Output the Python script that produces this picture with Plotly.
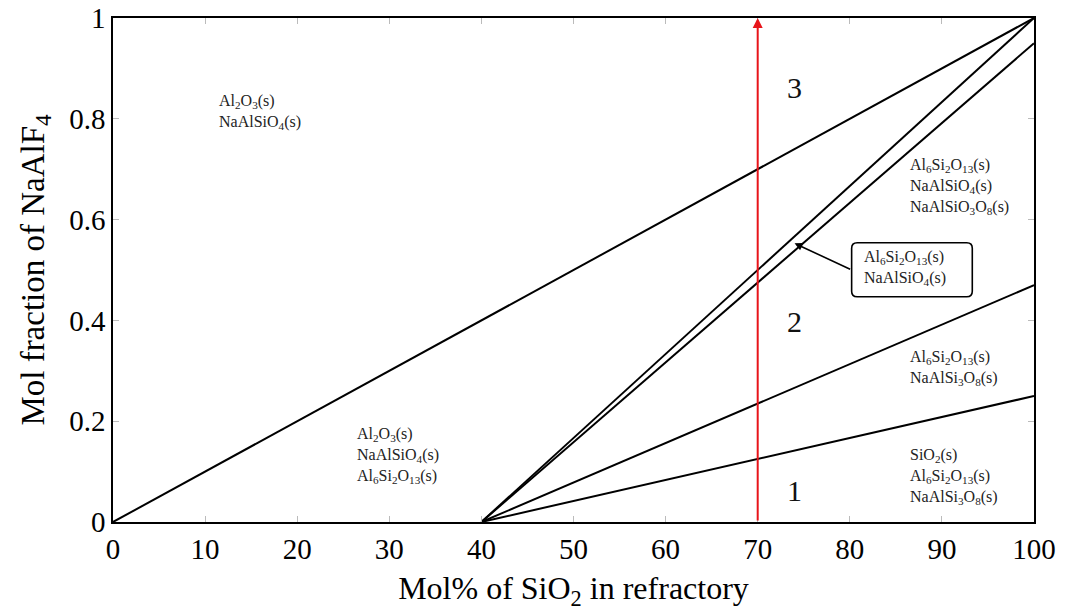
import plotly.graph_objects as go

# Phase boundary lines (start/end points)
line_x0 = [0, 40, 40, 40, 40]
line_y0 = [0.0, 0.0, 0.0, 0.0, 0.0]
line_x1 = [100, 100, 100, 100, 100]
line_y1 = [1.0, 1.0, 0.95, 0.47, 0.25]

# Red composition line
tie_x = 70
tie_y = [0.0, 1.0]

# Region labels
region_text = [
    "Al<sub>2</sub>O<sub>3</sub>(s)<br>NaAlSiO<sub>4</sub>(s)",
    "Al<sub>2</sub>O<sub>3</sub>(s)<br>NaAlSiO<sub>4</sub>(s)<br>Al<sub>6</sub>Si<sub>2</sub>O<sub>13</sub>(s)",
    "Al<sub>6</sub>Si<sub>2</sub>O<sub>13</sub>(s)<br>NaAlSiO<sub>4</sub>(s)<br>NaAlSiO<sub>3</sub>O<sub>8</sub>(s)",
    "Al<sub>6</sub>Si<sub>2</sub>O<sub>13</sub>(s)<br>NaAlSi<sub>3</sub>O<sub>8</sub>(s)",
    "SiO<sub>2</sub>(s)<br>Al<sub>6</sub>Si<sub>2</sub>O<sub>13</sub>(s)<br>NaAlSi<sub>3</sub>O<sub>8</sub>(s)",
]
region_x = [11.3, 26.3, 86.3, 86.3, 86.3]
region_y = [0.813, 0.131, 0.665, 0.306, 0.091]

box_text = "Al<sub>6</sub>Si<sub>2</sub>O<sub>13</sub>(s)<br>NaAlSiO<sub>4</sub>(s)"
box_x = 81.3
box_y = 0.503
box_target = (74.0, 0.553)

num_text = ["3", "2", "1"]
num_x = [74.0, 74.0, 74.0]
num_y = [0.863, 0.397, 0.063]

x_ticks = [0, 10, 20, 30, 40, 50, 60, 70, 80, 90, 100]
y_ticks = [0, 0.2, 0.4, 0.6, 0.8, 1.0]
y_tick_labels = ["0", "0.2", "0.4", "0.6", "0.8", "1"]

FONT = "Liberation Serif"

fig = go.Figure()
for x0, y0, x1, y1 in zip(line_x0, line_y0, line_x1, line_y1):
    fig.add_trace(go.Scatter(x=[x0, x1], y=[y0, y1], mode="lines",
                             line=dict(color="black", width=2),
                             showlegend=False, hoverinfo="skip"))

annotations = []
for t, x, y in zip(region_text, region_x, region_y):
    annotations.append(dict(x=x, y=y, text=t, showarrow=False, xanchor="left",
                            yanchor="middle", align="left",
                            font=dict(family=FONT, size=16, color="#222")))
for t, x, y in zip(num_text, num_x, num_y):
    annotations.append(dict(x=x, y=y, text=t, showarrow=False,
                            font=dict(family=FONT, size=30, color="#111")))
annotations.append(dict(x=box_x, y=box_y, text=box_text, showarrow=False,
                        xanchor="left", yanchor="middle", align="left",
                        font=dict(family=FONT, size=16, color="#222")))
# arrow to the narrow region
annotations.append(dict(x=box_target[0], y=box_target[1], ax=80.2, ay=0.50,
                        axref="x", ayref="y", xref="x", yref="y", text="",
                        showarrow=True, arrowhead=2, arrowsize=1, arrowwidth=1.6,
                        arrowcolor="black"))
# red vertical arrow
annotations.append(dict(x=tie_x, y=tie_y[1], ax=tie_x, ay=tie_y[0],
                        axref="x", ayref="y", xref="x", yref="y", text="",
                        showarrow=True, arrowhead=2, arrowsize=1, arrowwidth=2,
                        arrowcolor="#e8141a", standoff=0))

# rounded box
bx0, bx1, by0, by1 = 80.2, 93.3, 0.447, 0.554
rx, ry = 0.6, 0.011
path = (f"M {bx0+rx},{by1} L {bx1-rx},{by1} Q {bx1},{by1} {bx1},{by1-ry} "
        f"L {bx1},{by0+ry} Q {bx1},{by0} {bx1-rx},{by0} "
        f"L {bx0+rx},{by0} Q {bx0},{by0} {bx0},{by0+ry} "
        f"L {bx0},{by1-ry} Q {bx0},{by1} {bx0+rx},{by1} Z")
fig.add_shape(type="path", path=path, xref="x", yref="y",
              line=dict(color="black", width=1.6), fillcolor="white", layer="below")

fig.update_layout(
    width=1066, height=611,
    margin=dict(l=113, r=32, t=18, b=89),
    paper_bgcolor="white", plot_bgcolor="white",
    annotations=annotations,
    font=dict(family=FONT, color="black"),
    xaxis=dict(range=[0, 100], tickvals=x_ticks, ticks="inside", ticklen=6,
               tickcolor="#bbbbbb", showline=True, linecolor="black", linewidth=1.5,
               mirror="ticks", showgrid=False, zeroline=False, automargin=False,
               tickfont=dict(family=FONT, size=29, color="black"),
               title=dict(text="Mol% of SiO<sub>2</sub> in refractory",
                          font=dict(family=FONT, size=32, color="black"))),
    yaxis=dict(range=[0, 1], tickvals=y_ticks, ticktext=y_tick_labels,
               ticks="inside", ticklen=6, tickcolor="#bbbbbb", showline=True,
               linecolor="black", linewidth=1.5, mirror="ticks", showgrid=False,
               zeroline=False, automargin=False,
               tickfont=dict(family=FONT, size=29, color="black"),
               title=dict(text="Mol fraction of NaAlF<sub>4</sub>",
                          font=dict(family=FONT, size=33, color="black"))),
)

fig.write_html("out.html")
